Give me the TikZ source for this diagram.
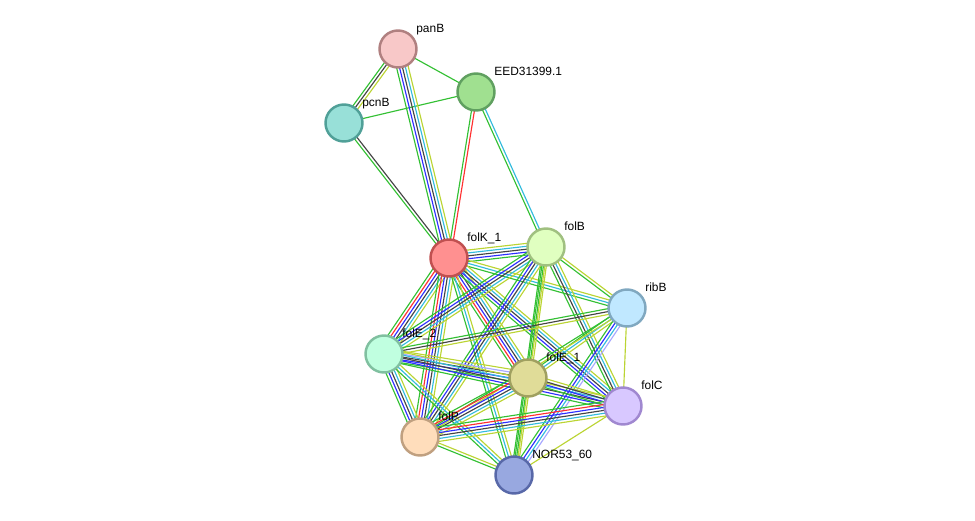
\documentclass[tikz,border=0pt]{standalone}
\usepackage{fontspec}
\setmainfont{Liberation Sans}
\usetikzlibrary{calc, backgrounds}
\definecolor{egreen}{HTML}{33C033}
\definecolor{ered}{HTML}{FF3030}
\definecolor{eblue}{HTML}{2E2EFF}
\definecolor{eblack}{HTML}{444444}
\definecolor{ecyan}{HTML}{33BBDD}
\definecolor{eyellow}{HTML}{BBD433}
\definecolor{elav}{HTML}{A8A8FF}
\tikzset{
x=0.02cm, y=-0.02cm, % one unit is one pixel of the layout
protein/.style={circle, minimum size=0.74cm, inner sep=0, line width=1.4pt}, % every protein node
lbl/.style={anchor=base west, inner sep=0, font=\fontsize{6.8}{8}\selectfont}, % name beside a node
link/.style={line width=0.65pt}, % one line of an edge bundle
}
% a bundle of parallel lines, #3 = how many, #4 = their colours
\newcommand{\bundle}[4]{%
  \foreach \col [count=\i] in {#4} {
    \pgfmathsetmacro{\off}{(\i-(#3+1)/2)*1.65}
    \draw[link, color=\col] ($(#1)!\off pt!90:(#2)$) -- ($(#2)!\off pt!-90:(#1)$);
  }}
\begin{document}
\begin{tikzpicture}
\useasboundingbox (0,0) rectangle (975,521);

            \node[protein, draw={rgb,255:red,176;green,128;blue,128}, fill={rgb,255:red,248;green,200;blue,200}] (panB) at (398,49) {};
            \node[protein, draw={rgb,255:red,96;green,160;blue,96}, fill={rgb,255:red,160;green,224;blue,144}] (eed) at (476,92) {};
            \node[protein, draw={rgb,255:red,80;green,160;blue,152}, fill={rgb,255:red,152;green,224;blue,216}] (pcnB) at (344,123) {};
            \node[protein, draw={rgb,255:red,192;green,80;blue,80}, fill={rgb,255:red,255;green,144;blue,144}] (folK) at (449,258) {};
            \node[protein, draw={rgb,255:red,160;green,192;blue,128}, fill={rgb,255:red,224;green,255;blue,192}] (folB) at (546,247) {};
            \node[protein, draw={rgb,255:red,128;green,168;blue,192}, fill={rgb,255:red,192;green,232;blue,255}] (ribB) at (627,308) {};
            \node[protein, draw={rgb,255:red,128;green,192;blue,160}, fill={rgb,255:red,192;green,255;blue,224}] (folEb) at (384,354) {};
            \node[protein, draw={rgb,255:red,160;green,160;blue,96}, fill={rgb,255:red,224;green,220;blue,152}] (folEa) at (528,378) {};
            \node[protein, draw={rgb,255:red,160;green,136;blue,208}, fill={rgb,255:red,216;green,200;blue,255}] (folC) at (623,406) {};
            \node[protein, draw={rgb,255:red,192;green,160;blue,128}, fill={rgb,255:red,255;green,221;blue,187}] (folP) at (420,437) {};
            \node[protein, draw={rgb,255:red,88;green,104;blue,168}, fill={rgb,255:red,152;green,168;blue,224}] (nor) at (514,475) {};

            \foreach \n/\t in {panB/panB, eed/EED31399.1, pcnB/pcnB, folK/folK\_1, folB/folB,
                ribB/ribB, folEb/folE\_2, folEa/folE\_1, folC/folC, folP/folP, nor/NOR53\_60}
                \node[lbl] (\n-l) at ($(\n)+(18,-17)$) {\t};

            \begin{pgfonlayer}{background}
            \bundle{panB}{pcnB}{3}{egreen,eblack,eyellow}
            \bundle{panB}{eed}{1}{egreen}
            \bundle{pcnB}{eed}{1}{egreen}
            \bundle{panB}{folK}{5}{egreen,eblue,eblack,ecyan,eyellow}
            \bundle{pcnB}{folK}{2}{egreen,eblack}
            \bundle{eed}{folK}{2}{egreen,ered}
            \bundle{eed}{folB}{2}{egreen,ecyan}
            \bundle{folK}{folB}{5}{egreen,eblue,eblack,ecyan,eyellow}
            \bundle{folK}{ribB}{3}{egreen,ecyan,eyellow}
            \bundle{folK}{folEb}{6}{egreen,ered,eblue,eblack,ecyan,eyellow}
            \bundle{folK}{folEa}{6}{egreen,ered,eblue,eblack,ecyan,eyellow}
            \bundle{folK}{folC}{5}{egreen,eblue,eblack,ecyan,eyellow}
            \bundle{folK}{folP}{6}{egreen,ered,eblue,eblack,ecyan,eyellow}
            \bundle{folK}{nor}{3}{egreen,ecyan,eyellow}
            \bundle{folB}{ribB}{2}{egreen,eyellow}
            \bundle{folB}{folEb}{5}{egreen,eblue,eblack,ecyan,eyellow}
            \bundle{folB}{folEa}{3}{egreen,egreen,eyellow}
            \bundle{folB}{folC}{4}{egreen,eblack,ecyan,eyellow}
            \bundle{folB}{folP}{5}{egreen,eblue,eblack,ecyan,eyellow}
            \bundle{folB}{nor}{2}{egreen,eyellow}
            \bundle{ribB}{folEb}{3}{egreen,eblack,eyellow}
            \bundle{ribB}{folEa}{3}{egreen,ecyan,eyellow}
            \bundle{ribB}{folC}{1}{eyellow}
            \bundle{ribB}{folP}{2}{egreen,eyellow}
            \bundle{ribB}{nor}{4}{egreen,eblue,ecyan,elav}
            \bundle{folEb}{folEa}{5}{egreen,eblue,eblack,elav,eyellow}
            \bundle{folEb}{folC}{5}{egreen,eblue,eblack,ecyan,eyellow}
            \bundle{folEb}{folP}{5}{egreen,eblue,eblack,ecyan,eyellow}
            \bundle{folEb}{nor}{3}{egreen,ecyan,eyellow}
            \bundle{folEa}{folC}{4}{egreen,eblue,eblack,eyellow}
            \bundle{folEa}{folP}{6}{egreen,ered,eblue,eblack,ecyan,eyellow}
            \bundle{folEa}{nor}{3}{egreen,egreen,eyellow}
            \bundle{folC}{folP}{6}{egreen,ered,eblue,eblack,ecyan,eyellow}
            \bundle{folC}{nor}{1}{eyellow}
            \bundle{folP}{nor}{2}{egreen,eyellow}
            \end{pgfonlayer}
        \end{tikzpicture}
\end{document}
